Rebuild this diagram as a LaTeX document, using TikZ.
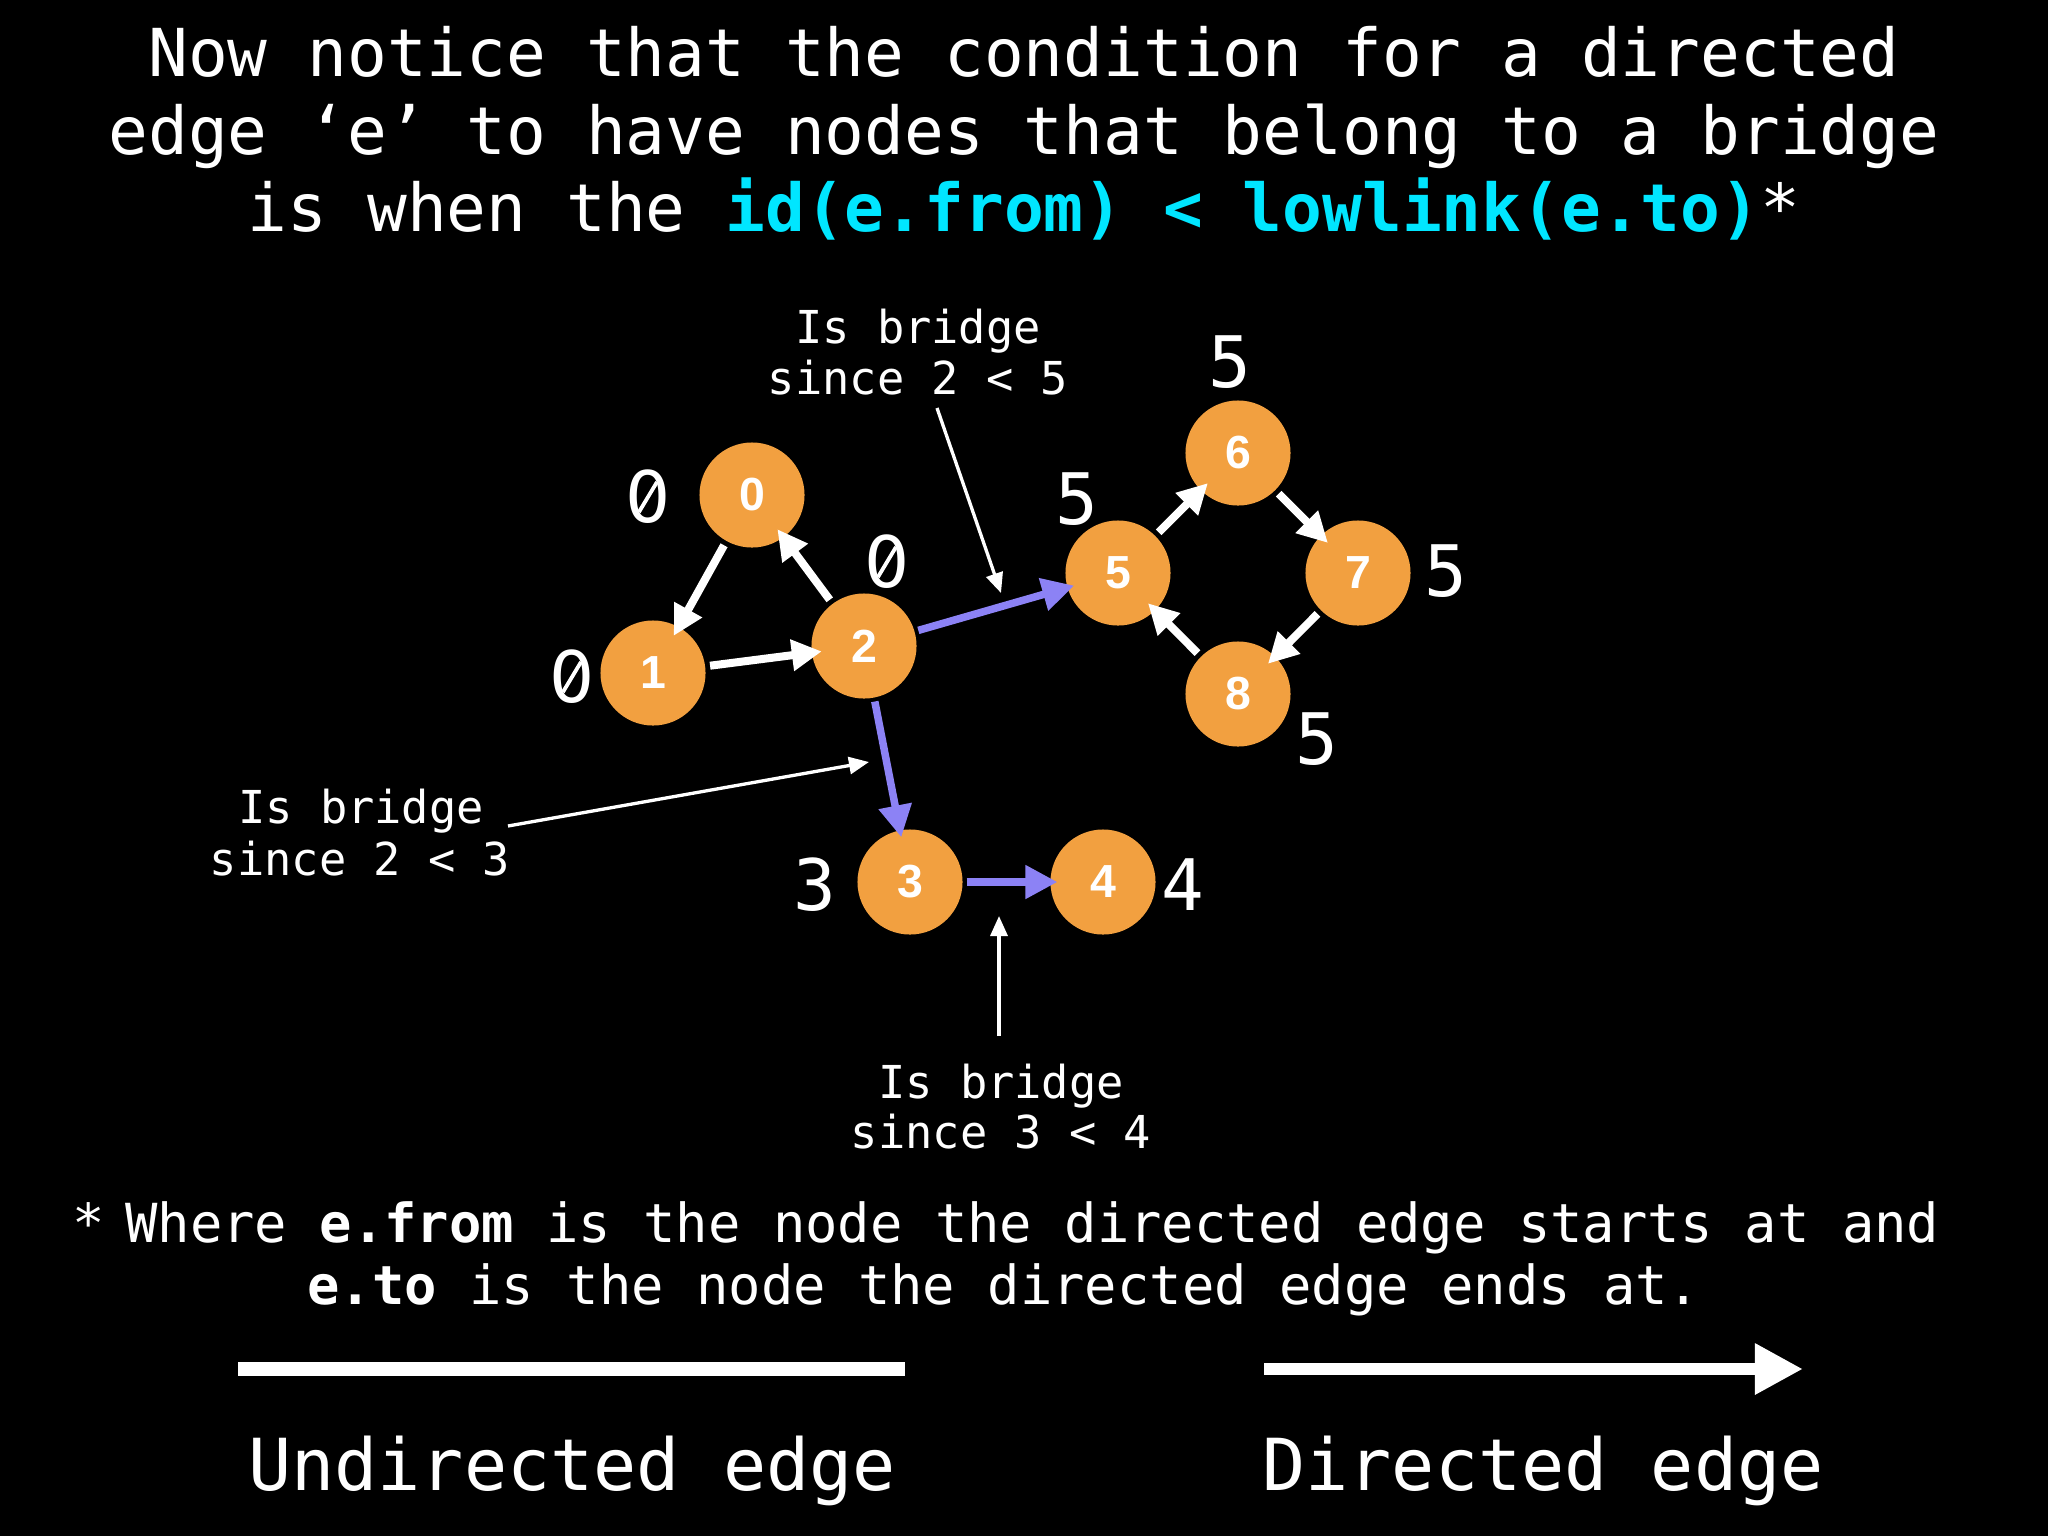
\documentclass[tikz,border=0pt]{standalone}
\usepackage{fontspec}
\setmonofont{DejaVu Sans Mono}
\newfontfamily\nodefont{Liberation Sans}
\newfontfamily\zerofont{DejaVu Sans}
\usetikzlibrary{arrows.meta}
\definecolor{nodeorange}{RGB}{242,160,64}
\definecolor{bridgepurple}{RGB}{140,130,245}
\definecolor{condcyan}{RGB}{0,230,255}
\begin{document}
\begin{tikzpicture}[x=0.01cm,y=-0.01cm,
  vertex/.style={circle,fill=nodeorange,minimum size=1.05cm,inner sep=0pt,outer sep=0pt,
    text=white,font=\nodefont\bfseries\fontsize{13.2}{15}\selectfont},
  lowlab/.style={text=white,inner sep=0pt,font=\ttfamily\fontsize{20.2}{24}\selectfont},
  zerolab/.style={text=white,inner sep=0pt,font=\zerofont\fontsize{20.2}{24}\selectfont},
  zeroslash/.style={draw=white,line width=0.038cm},
  titletext/.style={text=white,inner sep=0pt,anchor=base,font=\ttfamily\fontsize{18.8}{22}\selectfont},
  notetext/.style={text=white,inner sep=0pt,anchor=base,font=\ttfamily\fontsize{12.9}{15}\selectfont},
  foottext/.style={text=white,inner sep=0pt,anchor=base,font=\ttfamily\fontsize{15.3}{18}\selectfont},
  legendtext/.style={text=white,inner sep=0pt,anchor=base,font=\ttfamily\fontsize{20.4}{24}\selectfont},
  whiteedge/.style={draw=white,line width=0.08cm,-{Triangle[length=0.30cm,width=0.30cm]},
    shorten <=0.05cm,shorten >=-0.10cm},
  bridgeedge/.style={draw=bridgepurple,line width=0.075cm,-{Triangle[length=0.32cm,width=0.32cm]},
    shorten <=0.04cm,shorten >=-0.07cm},
  pointer/.style={draw=white,line width=0.033cm,-{Triangle[length=0.2cm,width=0.17cm]}}
]
\fill[black] (0,0) rectangle (2048,1536);
\useasboundingbox (0,0) rectangle (2048,1536);

% title
\node[titletext] (t1) at (1024,76) {Now notice that the condition for a directed};
\node[titletext] (t2) at (1024,154) {edge ‘e’ to have nodes that belong to a bridge};
\node[titletext] (t3) at (1024,231) {is when the {\color{condcyan}\bfseries id(e.from) < lowlink(e.to)}*};

% vertices
\node[vertex] (n0) at (752,495) {0};
\node[vertex] (n1) at (653,673) {1};
\node[vertex] (n2) at (864,646) {2};
\node[vertex] (n3) at (910,882) {3};
\node[vertex] (n4) at (1103,882) {4};
\node[vertex] (n5) at (1118,573) {5};
\node[vertex] (n6) at (1238,453) {6};
\node[vertex] (n7) at (1358,573) {7};
\node[vertex] (n8) at (1238,694) {8};

% low-link values (zeros are slashed)
\node[zerolab] (l0) at (648,497) {0};
\node[zerolab] (l1) at (572,677) {0};
\node[zerolab] (l2) at (887,562) {0};
\draw[zeroslash] ([shift={(-9,15)}]l0.center) -- ([shift={(9,-15)}]l0.center);
\draw[zeroslash] ([shift={(-9,15)}]l1.center) -- ([shift={(9,-15)}]l1.center);
\draw[zeroslash] ([shift={(-9,15)}]l2.center) -- ([shift={(9,-15)}]l2.center);
\node[lowlab] (l3) at (815,885) {3};
\node[lowlab] (l4) at (1183,885) {4};
\node[lowlab] (l5) at (1077,499) {5};
\node[lowlab] (l6) at (1230,362) {5};
\node[lowlab] (l7) at (1446,571) {5};
\node[lowlab] (l8) at (1317,739) {5};

% edges
\draw[whiteedge] (n0) -- (n1);
\draw[whiteedge] (n1) -- (n2);
\draw[whiteedge] (n2) -- (n0);
\draw[whiteedge] (n5) -- (n6);
\draw[whiteedge] (n6) -- (n7);
\draw[whiteedge] (n7) -- (n8);
\draw[whiteedge] (n8) -- (n5);
\draw[bridgeedge] (n2) -- (n5);
\draw[bridgeedge] (n2) -- (n3);
\draw[bridgeedge] (n3) -- (n4);

% annotations
\node[notetext] (a1) at (918,343) {Is bridge};
\node[notetext] (a1b) at (918,394) {since 2 < 5};
\coordinate (a1s) at (937,408);
\coordinate (a1e) at (1001,593);
\draw[pointer] (a1s) -- (a1e);

\node[notetext] (a2) at (361,823) {Is bridge};
\node[notetext] (a2b) at (360,875) {since 2 < 3};
\coordinate (a2s) at (508,826);
\coordinate (a2e) at (869,762);
\draw[pointer] (a2s) -- (a2e);

\node[notetext] (a3) at (1001,1098) {Is bridge};
\node[notetext] (a3b) at (1001,1148) {since 3 < 4};
\coordinate (a3s) at (999,1036);
\coordinate (a3e) at (999,916);
\draw[pointer] (a3s) -- (a3e);

% footnote
\node[foottext,anchor=base west] (fstar) at (72,1242) {*};
\node[foottext,anchor=base east] (f1) at (1940,1242) {Where \textbf{e.from} is the node the directed edge starts at and};
\node[foottext] (f2) at (1004,1304) {\textbf{e.to} is the node the directed edge ends at.};

% legend
\coordinate (u1) at (238,1369);
\coordinate (u2) at (905,1369);
\draw[white,line width=0.14cm] (u1) -- (u2);
\coordinate (d1) at (1264,1369);
\coordinate (d2) at (1803,1369);
\draw[white,line width=0.12cm,-{Triangle[length=0.48cm,width=0.48cm]}] (d1) -- (d2);
\node[legendtext] (lu) at (572,1490) {Undirected edge};
\node[legendtext] (ld) at (1543,1490) {Directed edge};
\end{tikzpicture}
\end{document}
